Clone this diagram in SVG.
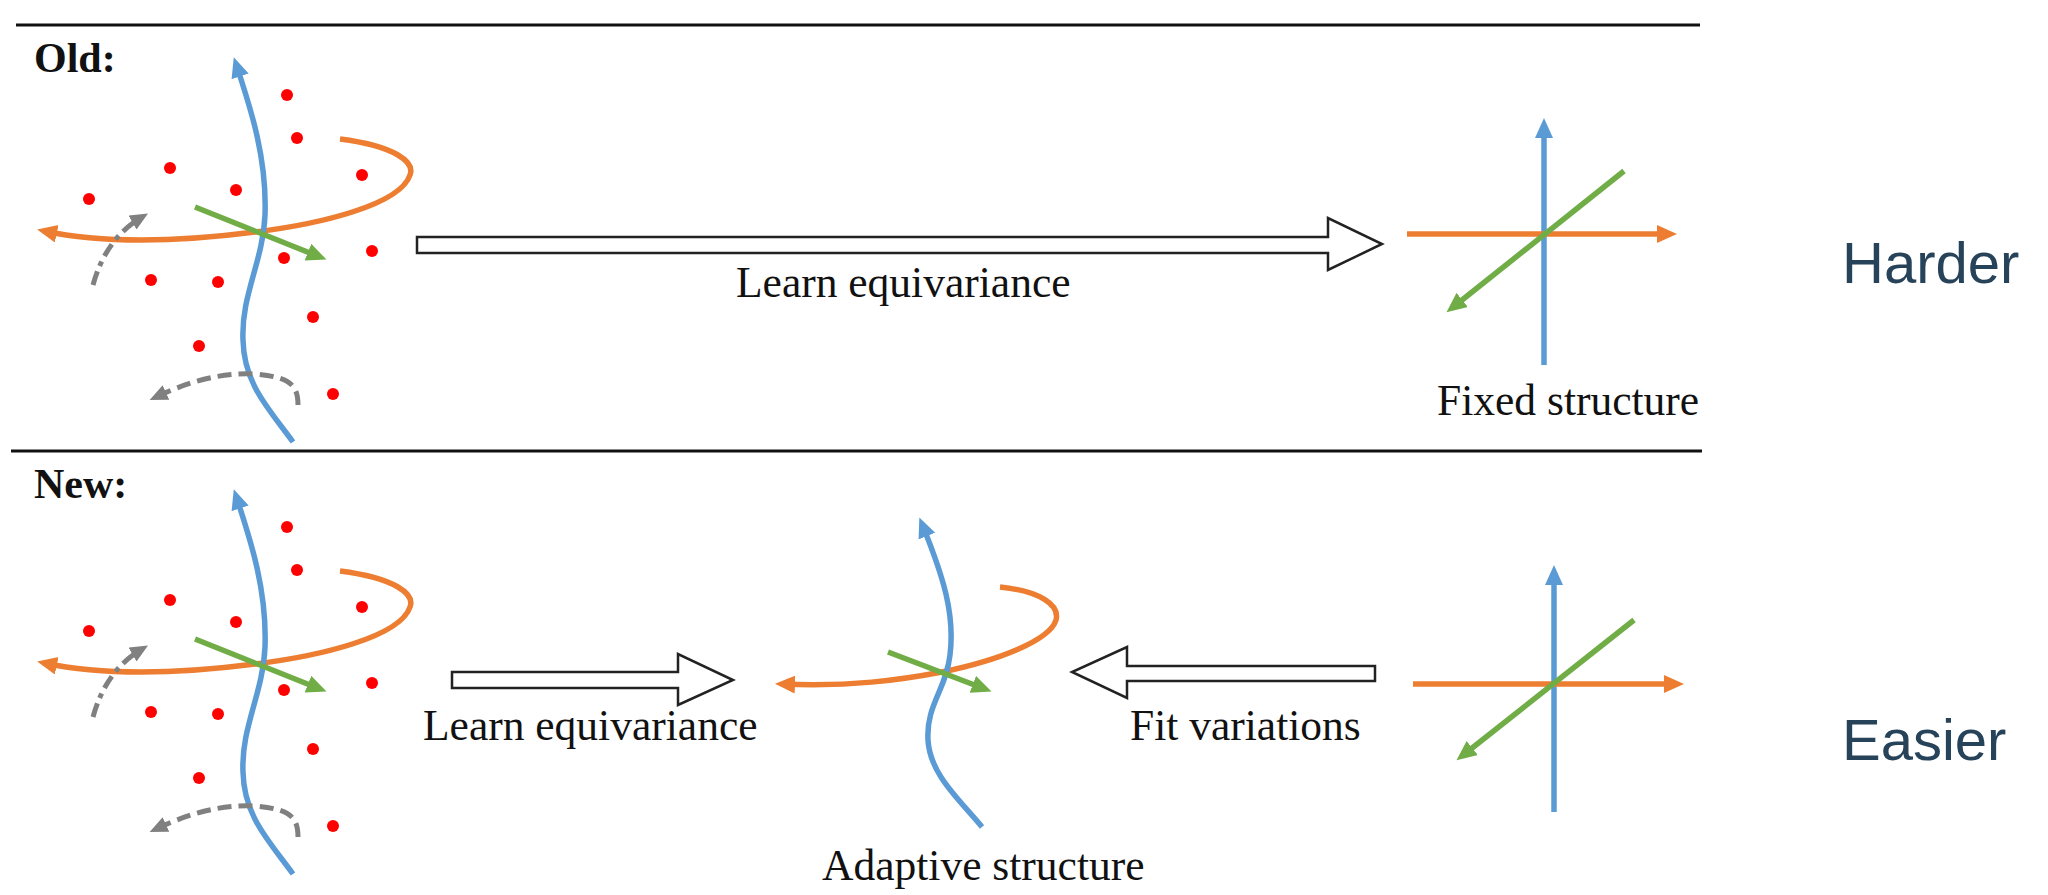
<svg xmlns="http://www.w3.org/2000/svg" xmlns:xlink="http://www.w3.org/1999/xlink" width="2048" height="895" viewBox="0 0 2048 895">
<style>
.bl{fill:none;stroke:#5b9bd5;stroke-width:5.5;marker-end:url(#mb)}
.or{fill:none;stroke:#ed7d31;stroke-width:5.5;marker-end:url(#mo)}
.gr{fill:none;stroke:#70ad47;stroke-width:5.5;marker-end:url(#mg)}
.gy{fill:none;stroke:#808080;stroke-width:5;marker-end:url(#my)}
.dot{fill:#ff0000}
.hollow{fill:#ffffff;stroke:#222222;stroke-width:2.5;stroke-linejoin:miter}
.rule{stroke:#111111;stroke-width:3}
.lbl{font-family:"Liberation Serif","Times New Roman",serif;font-size:43.5px;fill:#111111}
.hdr{font-family:"Liberation Serif","Times New Roman",serif;font-size:42px;font-weight:bold;fill:#111111}
.side{font-family:"Liberation Sans",Arial,sans-serif;font-size:58px;fill:#27435a}
</style>
<defs>
<marker id="mb" markerUnits="userSpaceOnUse" markerWidth="22" markerHeight="20" refX="13" refY="9" orient="auto"><path d="M0,0 L20,9 L0,18 z" fill="#5b9bd5"/></marker>
<marker id="mo" markerUnits="userSpaceOnUse" markerWidth="22" markerHeight="20" refX="13" refY="9" orient="auto"><path d="M0,0 L20,9 L0,18 z" fill="#ed7d31"/></marker>
<marker id="mg" markerUnits="userSpaceOnUse" markerWidth="22" markerHeight="20" refX="13" refY="9" orient="auto"><path d="M0,0 L20,9 L0,18 z" fill="#70ad47"/></marker>
<marker id="my" markerUnits="userSpaceOnUse" markerWidth="20" markerHeight="18" refX="11" refY="8" orient="auto"><path d="M0,0 L18,8 L0,16 z" fill="#808080"/></marker>
<g id="cluster">
<g class="dots">
<circle class="dot" cx="287" cy="95" r="6"/>
<circle class="dot" cx="297" cy="138" r="6"/>
<circle class="dot" cx="170" cy="168" r="6"/>
<circle class="dot" cx="236" cy="190" r="6"/>
<circle class="dot" cx="362" cy="175" r="6"/>
<circle class="dot" cx="89" cy="199" r="6"/>
<circle class="dot" cx="372" cy="251" r="6"/>
<circle class="dot" cx="284" cy="258" r="6"/>
<circle class="dot" cx="151" cy="280" r="6"/>
<circle class="dot" cx="218" cy="282" r="6"/>
<circle class="dot" cx="313" cy="317" r="6"/>
<circle class="dot" cx="199" cy="346" r="6"/>
<circle class="dot" cx="333" cy="394" r="6"/>
</g>
<path class="or" d="M340,139 C395,146 415,162 410,175 C400,205 320,224 255,232 C185,241 110,245 44,231"/>
<path class="bl" d="M293,442 C270,410 244,385 243,340 C241,295 263,262 265,215 C267,160 252,112 236,64"/>
<path class="gr" d="M195,207 L320,257"/>
<path class="gy" stroke-dasharray="14 6 5 6" d="M93,285 Q106,238 142,217"/>
<path class="gy" stroke-dasharray="14 7" d="M298,405 C298,385 290,377 255,374 C215,372 182,385 156,397"/>
</g>
</defs>

<g id="rules">
<line class="rule" x1="16" y1="25" x2="1700" y2="25"/>
<line class="rule" x1="11" y1="451" x2="1702" y2="451"/>
</g>

<g id="old-header"><text class="hdr" x="34" y="72">Old:</text></g>
<g id="new-header"><text class="hdr" x="34" y="498">New:</text></g>

<g id="old-data"><use xlink:href="#cluster" href="#cluster"/></g>
<g id="new-data"><use xlink:href="#cluster" href="#cluster" transform="translate(0,432)"/></g>

<g id="fixed-structure">
<path class="bl" d="M1544,365 L1544,125"/>
<path class="or" d="M1407,234 L1670,234"/>
<path class="gr" d="M1624,171 L1452,308"/>
<text class="lbl" x="1437" y="415">Fixed structure</text>
</g>

<g id="adaptive-structure">
<path class="or" d="M1000,587 C1040,591 1060,605 1056,620 C1050,640 1000,660 942,672 C900,680 850,687 782,684"/>
<path class="bl" d="M982,827 C960,800 930,775 928,740 C926,705 946,690 950,655 C955,615 944,578 922,524"/>
<path class="gr" d="M888,652 L985,689"/>
<text class="lbl" x="822" y="880">Adaptive structure</text>
</g>

<g id="fixed-structure-new">
<path class="bl" d="M1554,812 L1554,572"/>
<path class="or" d="M1413,684 L1677,684"/>
<path class="gr" d="M1634,620 L1462,756"/>
</g>

<g id="connectors">
<polygon class="hollow" points="417,237 1328,237 1328,218 1382,244 1328,270 1328,253 417,253"/>
<polygon class="hollow" points="452,672 678,672 678,654 733,680 678,705 678,688 452,688"/>
<polygon class="hollow" points="1375,666 1127,666 1127,647 1072,672 1127,698 1127,681 1375,681"/>
<text class="lbl" x="736" y="297">Learn equivariance</text>
<text class="lbl" x="423" y="740">Learn equivariance</text>
<text class="lbl" x="1130" y="740">Fit variations</text>
</g>

<g id="side-labels">
<text class="side" x="1842" y="283">Harder</text>
<text class="side" x="1842" y="760">Easier</text>
</g>
</svg>
